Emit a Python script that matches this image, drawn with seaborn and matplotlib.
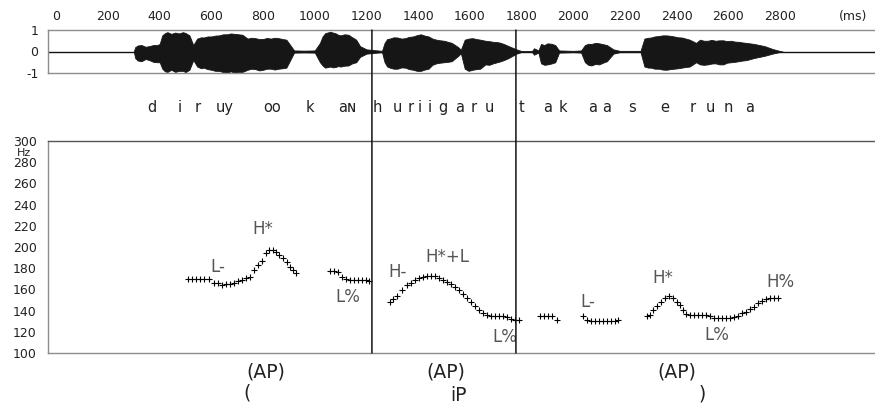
import matplotlib
matplotlib.use("Agg")
import matplotlib.pyplot as plt
from matplotlib.patches import ConnectionPatch
import pandas as pd
import seaborn as sns

# ---- time axis (ms) ----
time_ticks = [0, 200, 400, 600, 800, 1000, 1200, 1400, 1600, 1800, 2000, 2200, 2400, 2600, 2800]
time_range = (-32, 3167)

# ---- waveform envelope (normalised amplitude) ----
wave_ms = [300, 305, 315, 330, 345, 360, 375, 390, 400, 410, 420, 430, 445, 460, 475, 490, 500,
           515, 530, 545, 560, 570, 585, 600, 615, 630, 645, 660, 675, 690, 705, 720, 740, 755,
           770, 785, 800, 815, 830, 845, 860, 875, 890, 905, 920, 960, 1000, 1020, 1030, 1040,
           1060, 1070, 1080, 1090, 1100, 1115, 1130, 1145, 1160, 1175, 1200, 1260, 1270, 1280,
           1290, 1305, 1320, 1335, 1350, 1365, 1380, 1395, 1410, 1425, 1440, 1455, 1470, 1485,
           1500, 1515, 1530, 1555, 1565, 1580, 1595, 1610, 1625, 1640, 1660, 1675, 1690, 1705,
           1720, 1735, 1750, 1780, 1800, 1840, 1848, 1865, 1875, 1888, 1900, 1915, 1930, 1945,
           2000, 2030, 2045, 2058, 2070, 2085, 2100, 2115, 2130, 2155, 2180, 2260, 2275, 2290,
           2300, 2315, 2330, 2345, 2360, 2375, 2390, 2405, 2420, 2435, 2450, 2475, 2490, 2505,
           2520, 2535, 2550, 2565, 2580, 2595, 2610, 2625, 2640, 2655, 2670, 2700, 2740, 2770,
           2800, 2810]
wave_top = [0.0, 0.2, 0.28, 0.3, 0.22, 0.25, 0.3, 0.3, 0.35, 0.75, 0.85, 0.9, 0.82, 0.88, 0.84, 0.9, 0.86,
            0.75, 0.3, 0.6, 0.66, 0.65, 0.7, 0.7, 0.74, 0.75, 0.8, 0.8, 0.84, 0.82, 0.8, 0.78, 0.6, 0.64,
            0.62, 0.58, 0.58, 0.63, 0.6, 0.64, 0.62, 0.58, 0.55, 0.3, 0.05, 0.04, 0.05, 0.4, 0.7, 0.85,
            0.92, 0.88, 0.85, 0.78, 0.75, 0.8, 0.78, 0.66, 0.55, 0.25, 0.1, 0.03, 0.4, 0.58,
            0.6, 0.66, 0.65, 0.6, 0.62, 0.68, 0.7, 0.76, 0.8, 0.74, 0.7, 0.6, 0.55, 0.52,
            0.5, 0.45, 0.4, 0.2, 0.08, 0.55, 0.6, 0.62, 0.58, 0.55, 0.5, 0.48, 0.45, 0.44,
            0.4, 0.33, 0.25, 0.1, 0.02, 0.02, 0.15, 0.05, 0.35, 0.3, 0.38, 0.36, 0.3, 0.05,
            0.03, 0.05, 0.3, 0.36, 0.35, 0.4, 0.38, 0.34, 0.3, 0.1, 0.03, 0.03, 0.6, 0.64,
            0.65, 0.7, 0.72, 0.75, 0.75, 0.73, 0.7, 0.66, 0.65, 0.6, 0.55, 0.4, 0.55, 0.5,
            0.5, 0.54, 0.5, 0.52, 0.52, 0.48, 0.5, 0.46, 0.45, 0.42, 0.4, 0.35, 0.25, 0.12,
            0.02, 0.0]
wave_bot = [0.0, -0.3, -0.42, -0.45, -0.35, -0.4, -0.48, -0.5, -0.5, -0.8, -0.92, -0.95, -0.85, -0.95, -0.9, -0.9, -0.96,
            -0.85, -0.4, -0.7, -0.78, -0.75, -0.82, -0.85, -0.9, -0.9, -0.96, -1.0, -0.92, -1.0, -0.96, -0.95, -0.85, -0.8,
            -0.82, -0.88, -0.85, -0.8, -0.8, -0.84, -0.8, -0.78, -0.75, -0.4, -0.05, -0.04, -0.05, -0.5, -0.65, -0.75,
            -0.7, -0.74, -0.72, -0.68, -0.7, -0.66, -0.65, -0.55, -0.5, -0.25, -0.1, -0.03, -0.5, -0.7,
            -0.75, -0.8, -0.8, -0.74, -0.75, -0.82, -0.85, -0.9, -0.9, -0.84, -0.8, -0.62, -0.55, -0.52,
            -0.5, -0.48, -0.45, -0.2, -0.08, -0.8, -0.9, -0.85, -0.82, -0.8, -0.6, -0.62, -0.55, -0.5,
            -0.45, -0.38, -0.3, -0.1, -0.02, -0.02, -0.15, -0.05, -0.55, -0.62, -0.6, -0.56, -0.5, -0.05,
            -0.03, -0.05, -0.5, -0.62, -0.65, -0.58, -0.6, -0.52, -0.45, -0.1, -0.03, -0.03, -0.7, -0.75,
            -0.75, -0.8, -0.8, -0.84, -0.85, -0.82, -0.8, -0.78, -0.75, -0.72, -0.7, -0.5, -0.6, -0.62,
            -0.6, -0.56, -0.55, -0.6, -0.6, -0.52, -0.5, -0.48, -0.45, -0.42, -0.4, -0.3, -0.2, -0.1,
            -0.02, 0.0]

# ---- F0 track ----
f0_ms = [510, 525, 540, 556, 571, 590, 610, 625, 641, 656, 672, 687, 703, 718, 734, 749, 765, 780,
         796, 811, 823, 838, 850, 862, 877, 892, 904, 916, 927,
         1059, 1074, 1090, 1105, 1121, 1136, 1152, 1167, 1182, 1198, 1210,
         1291, 1302, 1318, 1337, 1356, 1372, 1387, 1403, 1418, 1434, 1449, 1465, 1480, 1496, 1511,
         1527, 1542, 1558, 1573, 1589, 1604, 1620, 1635, 1651, 1666, 1682, 1697, 1713, 1728, 1743,
         1759, 1774, 1790,
         1871, 1887, 1902, 1917, 1937,
         2037, 2053, 2068, 2084, 2099, 2115, 2130, 2146, 2161, 2172,
         2285, 2297, 2308, 2324, 2339, 2355, 2370, 2386, 2401, 2413, 2424, 2436, 2451, 2467, 2482,
         2498, 2513, 2529, 2544, 2560, 2575, 2591, 2606, 2622, 2637, 2653, 2668, 2684, 2699, 2715,
         2730, 2746, 2761, 2777, 2792]
f0_hz = [170, 170, 170, 170, 170, 170, 166.5, 166, 164.5, 165, 165.5, 166.5, 168, 169, 170.5, 172, 178, 183,
         187, 194, 197, 197, 195, 192, 190, 186, 181, 178, 175.5,
         177, 177, 176.5, 172, 169.5, 169, 169, 169, 169, 168.5, 167.5,
         148.5, 151, 154, 159.5, 164.5, 166.5, 168.5, 170.5, 172, 172.5, 172.5, 172.5, 171, 169, 167,
         165, 162.5, 159.5, 155.5, 151.5, 148, 144.5, 141, 137.5, 135.5, 135, 135, 135, 134.5, 133.5,
         132, 131, 131,
         134.5, 134.5, 134.5, 134.5, 131,
         135, 131.5, 130.5, 130.5, 130.5, 130.5, 130.5, 130.5, 130.5, 131,
         134.5, 136, 140.5, 144.5, 148.5, 151.5, 153.5, 152, 148.5, 145.5, 141, 136.5, 136, 136, 136,
         136, 135.5, 134.5, 133, 133, 133, 133, 133, 133.5, 135, 137.5, 139, 141.5, 143, 147.5,
         149.5, 150.5, 152, 152, 152]

# ---- segmental transcription ----
phone_labels = ["d", "i", "r", "uy", "oo", "k", "a\u0274", "h", "u", "r", "i", "i", "g", "a", "r", "u",
                "t", "a", "k", "a", "a", "s", "e", "r", "u", "n", "a"]
phone_ms = [370, 478, 548, 652, 834, 981, 1124, 1241, 1318, 1372, 1407, 1446, 1496, 1562, 1616, 1674,
            1801, 1902, 1960, 2076, 2130, 2227, 2355, 2463, 2529, 2598, 2683]

# ---- tonal events ----
tone_labels = ["L-", "H*", "L%", "H-", "H*+L", "L%", "L-", "H*", "L%", "H%"]
tone_ms = [625, 800, 1128, 1322, 1511, 1736, 2057, 2347, 2556, 2800]
tone_hz = [181.5, 216.6, 153, 176.8, 191, 115, 148, 171, 117, 167]

# ---- prosodic phrasing ----
boundaries_ms = [1221, 1778]
ap_labels = ["(AP)", "(AP)", "(AP)"]
ap_ms = [812, 1507, 2401]
ip_labels = ["(", "iP", ")"]
ip_ms = [738, 1554, 2498]
ip_offsets = [-28.5, -30.5, -29.5]

# ------------------------------------------------------------------
sns.set_theme(style="white")
plt.rcParams["font.family"] = ["DejaVu Sans"]

fig = plt.figure(figsize=(8.75, 4.05), dpi=100)
left = 48 / 875
ax_w = fig.add_axes([left, 1 - 73 / 405, 1 - left, 43 / 405])
ax_f = fig.add_axes([left, 1 - 353 / 405, 1 - left, 212 / 405])

box_col = "#8c8c8c"
txt_col = "#222222"

# waveform
wave = pd.DataFrame({"ms": wave_ms, "top": wave_top, "bot": wave_bot})
ax_w.axhline(0, color="#111111", lw=1.0, zorder=1)
ax_w.fill_between(wave["ms"], wave["bot"], wave["top"], color="#161616", lw=0.6,
                  edgecolor="#161616", zorder=2)
ax_w.set_xlim(*time_range)
ax_w.set_ylim(-1, 1)
ax_w.set_yticks([1, 0, -1])
ax_w.set_yticklabels(["1", "0", "-1"])
ax_w.xaxis.tick_top()
ax_w.set_xticks(time_ticks)
ax_w.set_xticklabels([str(t) for t in time_ticks])
ax_w.tick_params(axis="both", length=0, labelsize=9, colors=txt_col)
ax_w.tick_params(axis="x", pad=5)
ax_w.tick_params(axis="y", pad=7)
ax_w.annotate("(ms)", xy=(3082, 1), xycoords=ax_w.get_xaxis_transform(),
              xytext=(0, 5), textcoords="offset points", ha="center", va="bottom",
              fontsize=9, color=txt_col)
for side in ["left", "top", "bottom"]:
    ax_w.spines[side].set_color(box_col)
    ax_w.spines[side].set_linewidth(1.0)
ax_w.spines["right"].set_visible(False)
ax_w.set_xlabel("")
ax_w.set_ylabel("")

for lbl, ms in zip(phone_labels, phone_ms):
    ax_w.annotate(lbl, xy=(ms, 0), xycoords=ax_w.get_xaxis_transform(),
                  xytext=(0, -24.5), textcoords="offset points", ha="center", va="center",
                  fontsize=10.5, color=txt_col)

# F0 contour
f0 = pd.DataFrame({"ms": f0_ms, "hz": f0_hz})
sns.scatterplot(data=f0, x="ms", y="hz", ax=ax_f, marker="+", s=16, color="black",
                linewidth=0.8, legend=False)
ax_f.set_xlim(*time_range)
ax_f.set_ylim(100, 300)
ax_f.set_yticks(list(range(100, 301, 20)))
ax_f.set_xticks([])
ax_f.tick_params(axis="y", length=0, labelsize=9, colors=txt_col, pad=8)
ax_f.annotate("Hz", xy=(0, 300), xycoords=("axes fraction", "data"),
              xytext=(-17, -8.5), textcoords="offset points", ha="center", va="center",
              fontsize=8, color=txt_col)
ax_f.set_xlabel("")
ax_f.set_ylabel("")
for side in ["left", "top", "bottom"]:
    ax_f.spines[side].set_linewidth(1.0)
ax_f.spines["left"].set_color(box_col)
ax_f.spines["bottom"].set_color(box_col)
ax_f.spines["top"].set_color("#555555")
ax_f.spines["right"].set_visible(False)

for lbl, ms, hz in zip(tone_labels, tone_ms, tone_hz):
    ax_f.text(ms, hz, lbl, ha="center", va="center", fontsize=12, color="#555555")

for lbl, ms in zip(ap_labels, ap_ms):
    ax_f.annotate(lbl, xy=(ms, 0), xycoords=ax_f.get_xaxis_transform(),
                  xytext=(0, -13.5), textcoords="offset points", ha="center", va="center",
                  fontsize=13.5, color=txt_col)
for lbl, ms, off in zip(ip_labels, ip_ms, ip_offsets):
    ax_f.annotate(lbl, xy=(ms, 0), xycoords=ax_f.get_xaxis_transform(),
                  xytext=(0, off), textcoords="offset points", ha="center", va="center",
                  fontsize=13.5, color=txt_col)

# phrase boundaries running through both panels
for b in boundaries_ms:
    con = ConnectionPatch(xyA=(b, 1), coordsA=ax_w.get_xaxis_transform(),
                          xyB=(b, 0), coordsB=ax_f.get_xaxis_transform(),
                          color="#111111", lw=1.1, zorder=5)
    fig.add_artist(con)

fig.savefig("out.png", dpi=100, facecolor="white")
